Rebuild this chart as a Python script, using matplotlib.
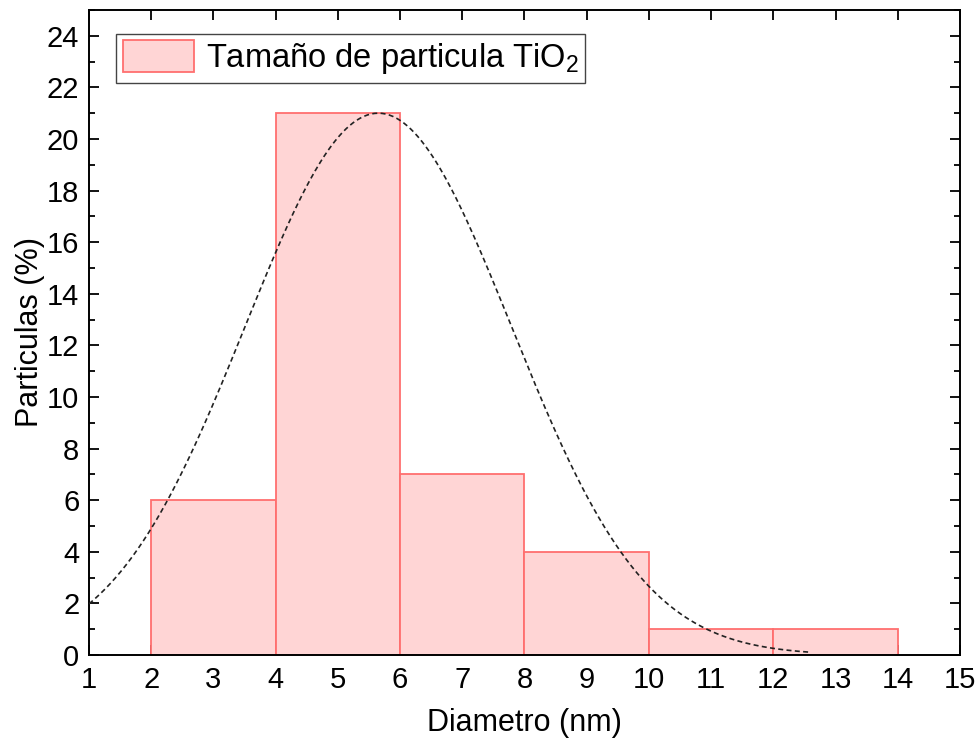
import numpy as np
import matplotlib.pyplot as plt
from matplotlib.ticker import MultipleLocator

plt.rcParams['font.family'] = ['Liberation Sans', 'DejaVu Sans']
plt.rcParams['mathtext.fontset'] = 'custom'
plt.rcParams['mathtext.rm'] = 'Liberation Sans'
plt.rcParams['mathtext.it'] = 'Liberation Sans:italic'

# Histograma de tamaño de partícula
bin_edges = [2, 4, 6, 8, 10, 12, 14]
counts = [6, 21, 7, 4, 1, 1]

# Parámetros del ajuste gaussiano
fit_amp = 21.0
fit_mu = 5.65
fit_sigma = 2.14
fit_range = (1.0, 12.6)

fig = plt.figure(figsize=(9.79, 7.44), dpi=100)
ax = fig.add_axes([0.0909, 0.1196, 0.8897, 0.867])

widths = np.diff(bin_edges)
ax.bar(bin_edges[:-1], counts, width=widths, align='edge',
       facecolor='#ffd5d5', edgecolor='#ff6f6f', linewidth=1.3,
       label='Tamaño de particula TiO$_2$', zorder=2)

xf = np.linspace(fit_range[0], fit_range[1], 400)
yf = fit_amp * np.exp(-(xf - fit_mu) ** 2 / (2 * fit_sigma ** 2))
ax.plot(xf, yf, color='#222222', linestyle=(0, (3, 2)), linewidth=1.2, zorder=3)

ax.set_xlim(1, 15)
ax.set_ylim(0, 25)
ax.xaxis.set_major_locator(MultipleLocator(1))
ax.yaxis.set_major_locator(MultipleLocator(2))
ax.yaxis.set_minor_locator(MultipleLocator(1))
ax.tick_params(which='both', direction='in', top=True, right=True,
               labelsize=21, width=1.3)
ax.tick_params(which='major', length=7)
ax.tick_params(which='minor', length=4)
ax.tick_params(axis='x', which='major', pad=8)
ax.tick_params(axis='y', which='major', pad=7)
for s in ax.spines.values():
    s.set_linewidth(1.4)

ax.set_xlabel('Diametro (nm)', fontsize=22, labelpad=10)
ax.set_ylabel('Particulas (%)', fontsize=22, labelpad=1)

leg = ax.legend(loc='upper left', fontsize=23.5, fancybox=False,
                edgecolor='#444444', framealpha=1, borderpad=0.2,
                handlelength=2.2, handleheight=1.1, handletextpad=0.36,
                borderaxespad=0, bbox_to_anchor=(0.031, 0.963))
leg.get_frame().set_linewidth(1.0)

fig.savefig('out.png', dpi=100)
